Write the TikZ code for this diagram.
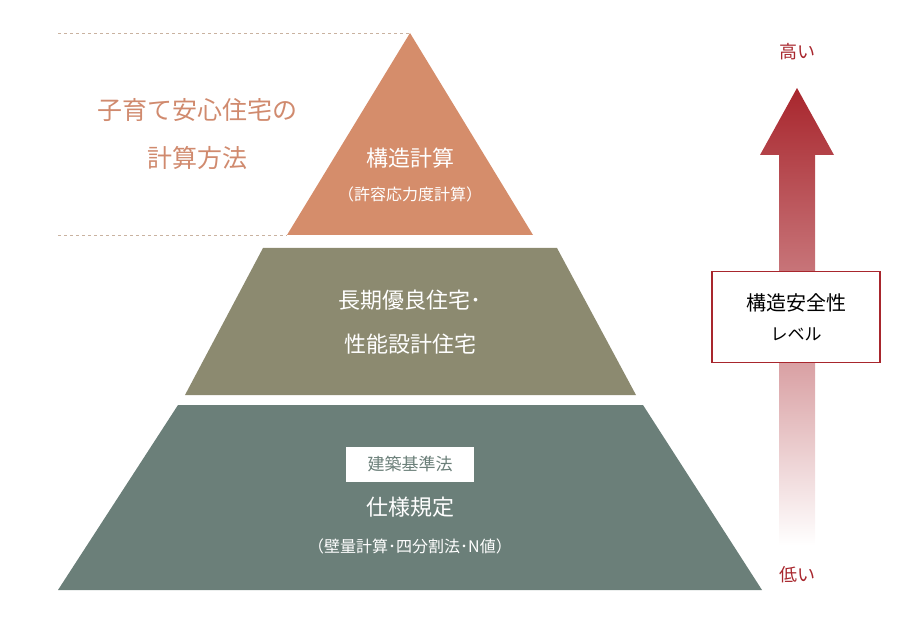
\documentclass[tikz,border=0pt]{standalone}
\usepackage{fontspec}
\setmainfont{Noto Sans CJK JP}
\definecolor{toptone}{HTML}{D58D6B}
\definecolor{midtone}{HTML}{8C8A70}
\definecolor{lowtone}{HTML}{6B7F79}
\definecolor{levelred}{HTML}{A8262D}
\definecolor{titletone}{HTML}{D08A6E}
\definecolor{dashtone}{HTML}{C9B2A0}
\tikzset{
  tiertext/.style={text=white, align=center, font=\fontsize{22}{30}\selectfont},
  subtext/.style={text=white, font=\fontsize{16}{20}\selectfont},
  guide/.style={dashtone, dashed, line width=0.6pt},
  endtext/.style={text=levelred, font=\fontsize{18}{22}\selectfont}
}
\begin{document}
\begin{tikzpicture}[x=1pt,y=-1pt]
  \useasboundingbox (0,0) rectangle (903,631);
  % guides
  \draw[guide] (58,33) -- (410,33);
  \draw[guide] (58,235) -- (287,235);
  % tiers
  \fill[toptone] (410,33) -- (533,235) -- (287,235) -- cycle;
  \fill[midtone] (263,248) -- (557,248) -- (636,395) -- (185,395) -- cycle;
  \fill[lowtone] (178,405) -- (643,405) -- (762,590) -- (58,590) -- cycle;
  % title
  \node[text=titletone, align=center, font=\fontsize{25}{48}\selectfont] (title) at (197,134) {子育て安心住宅の\\計算方法};
  % tier labels
  \node[tiertext] (calc) at (410,158) {構造計算};
  \node[subtext] (calcsub) at (410,194) {（許容応力度計算）};
  \node[tiertext, font=\fontsize{22}{44}\selectfont] (long) at (410,322) {長期優良住宅･\\性能設計住宅};
  \node[fill=white, text=lowtone, minimum width=128pt, minimum height=35pt, font=\fontsize{17}{20}\selectfont] (law) at (410,464) {建築基準法};
  \node[tiertext] (spec) at (410,507) {仕様規定};
  \node[subtext] (specsub) at (410,546) {（壁量計算･四分割法･N値）};
  % level arrow
  \shade[top color=levelred, bottom color=white, middle color=levelred!55]
    (797,88) -- (834,155) -- (815,155) -- (815,545) -- (779,545) -- (779,155) -- (760,155) -- cycle;
  \node[endtext] (high) at (797,52) {高い};
  \node[endtext] (low) at (797,575) {低い};
  \node[draw=levelred, line width=1.2pt, fill=white, minimum width=168pt, minimum height=91pt, align=center, font=\fontsize{20}{30}\selectfont] (level) at (796,317) {構造安全性\\{\fontsize{17}{20}\selectfont レベル}};
\end{tikzpicture}
\end{document}
